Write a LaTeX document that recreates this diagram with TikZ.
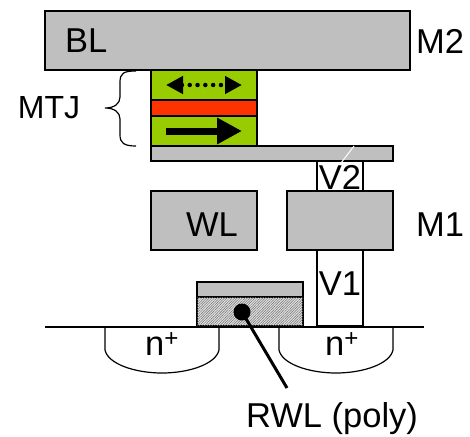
\documentclass[tikz,border=0pt]{standalone}
\usepackage{fontspec}
\setmainfont{Liberation Sans}
\usetikzlibrary{patterns.meta}
\usetikzlibrary{positioning}
\usetikzlibrary{arrows.meta}
\tikzset{
    mybox/.style = {rectangle, draw=black, line width=1.5pt, inner sep=0pt, outer sep=0pt, anchor=north west, align=center},
    myboxg/.style = {mybox, fill=black!25},
    myboxw/.style = {mybox, fill=white},
    myboxl/.style = {mybox, fill=lime1},
    myboxr/.style = {mybox, fill=red1},
    myboxh/.style = {mybox, fill=black!12, postaction={pattern={Lines[angle=45,distance=1.8pt,line width=0.5pt]},pattern color=black!55}},
    mylabel/.style = {inner sep=0pt, font=\fontsize{34.5}{36}\selectfont},
    edgen/.style = {-,line width=1.5pt,black},
    edgea/.style = {-{Triangle[length=25pt,width=25pt]},line width=7pt,black},
    edgeh/.style = {{Triangle[length=17pt,width=17pt]}-{Triangle[length=17pt,width=17pt]},line width=4.5pt,black,dash pattern=on 0pt off 7.8pt,line cap=round},
    edgew/.style = {-,line width=1pt,white},
    edgep/.style = {-,line width=3pt,black},
    edgec/.style = {-,line width=1.2pt,black}
}
\definecolor{lime1}{RGB}{153,204,0}
\definecolor{red1}{RGB}{255,51,0}
\begin{document}
\begin{tikzpicture}[x=1pt,y=-1pt]
  \useasboundingbox (0,0) rectangle (470,436);
  % metal
  \node[myboxg, minimum width=365pt, minimum height=59pt] (bl) at (45,11) {};
  \node[mylabel, right=20pt of bl.west] (bltext) {BL};
  \node[mylabel, anchor=west] (m2) at (416,41) {M2};
  % stack
  \node[myboxl, minimum width=106pt, minimum height=30pt] (free) at (151,70) {};
  \node[myboxr, minimum width=106pt, minimum height=16pt] (barrier) at (151,100) {};
  \node[myboxl, minimum width=106pt, minimum height=30pt] (fixed) at (151,116) {};
  \node[myboxg, minimum width=242pt, minimum height=15pt] (plate) at (151,146) {};
  \coordinate (fl) at (166,85);
  \coordinate (fr) at (242,85);
  \coordinate (xl) at (166,131);
  \coordinate (xr) at (242,131);
  \draw[edgeh] (fl) -- (fr);
  \draw[edgea] (xl) -- (xr);
  % brace
  \node[mylabel, font=\fontsize{32}{34}\selectfont] (mtj) at (49,108) {MTJ};
  \coordinate (bt) at (136,71);
  \coordinate (bb) at (136,146);
  \coordinate (bm) at (105,108);
  \draw[edgec] (bt) .. controls (124,71) and (120,73) .. (120,82) -- (120,97)
    .. controls (120,104) and (114,108) .. (bm)
    .. controls (114,108) and (120,112) .. (120,119) -- (120,135)
    .. controls (120,143) and (124,146) .. (bb);
  % vias
  \node[myboxw, minimum width=46pt, minimum height=30pt] (v2) at (317,161) {};
  \node[mylabel] (v2text) at (340,177) {V2};
  \node[myboxg, minimum width=106pt, minimum height=59pt] (wl) at (151,191) {};
  \node[mylabel] (wltext) at (212,225) {WL};
  \node[myboxg, minimum width=106pt, minimum height=59pt] (m1box) at (287,191) {};
  \node[mylabel, anchor=west] (m1) at (416,225) {M1};
  \node[myboxw, minimum width=46pt, minimum height=76pt] (v1) at (317,250) {};
  \node[mylabel] (v1text) at (340,284) {V1};
  \coordinate (wa) at (354,146);
  \coordinate (wb) at (341,163);
  \draw[edgew] (wa) -- (wb);
  % gate
  \node[myboxg, minimum width=106pt, minimum height=15pt] (gate) at (197,282) {};
  \node[myboxh, minimum width=106pt, minimum height=29pt] (poly) at (197,297) {};
  % substrate
  \coordinate (sl) at (45,327);
  \coordinate (sr) at (424,327);
  \draw[edgen] (sl) -- (sr);
  \draw[edgec] (105,327) -- (105,350) .. controls (108,364) and (135,373) .. (162,373)
    .. controls (189,373) and (216,364) .. (219,350) -- (219,327);
  \draw[edgec] (279,327) -- (279,350) .. controls (282,364) and (309,373) .. (336,373)
    .. controls (363,373) and (390,364) .. (393,350) -- (393,327);
  \node[mylabel] (nl) at (162,344) {n\textsuperscript{+}};
  \node[mylabel] (nr) at (342,344) {n\textsuperscript{+}};
  % contact
  \node[circle, fill=black, minimum size=17pt, inner sep=0pt] (dot) at (242,312) {};
  \coordinate (pe) at (287,388);
  \draw[edgep] (dot.center) -- (pe);
  \node[mylabel] (rwl) at (332,419) {RWL (poly)};
\end{tikzpicture}
\end{document}
